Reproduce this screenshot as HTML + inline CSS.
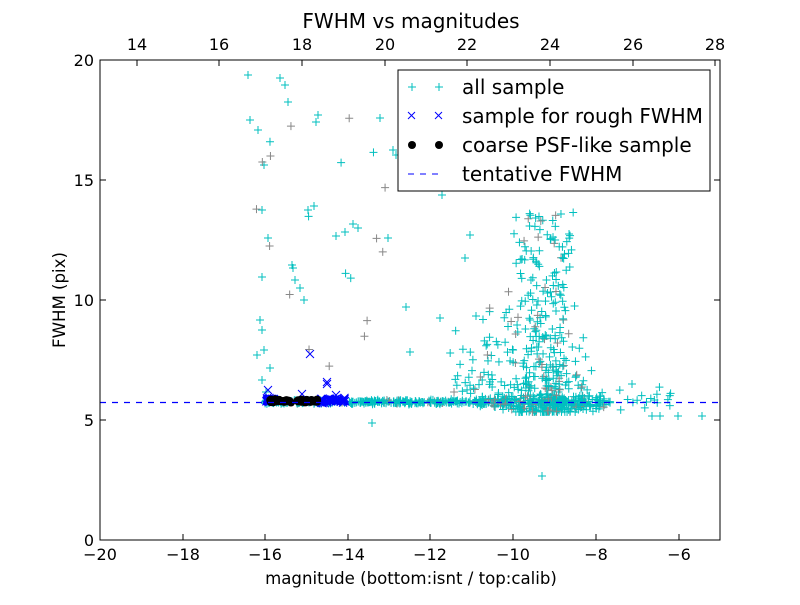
<!DOCTYPE html>
<html><head><meta charset="utf-8"><style>
body{margin:0;background:#fff}
svg{font-family:"DejaVu Sans","Liberation Sans",sans-serif}
</style></head><body>
<svg id="s" width="800" height="600" xmlns="http://www.w3.org/2000/svg">
<rect width="800" height="600" fill="#fff"/>
<g id="pts"></g>
<line x1="100" y1="402.5" x2="720" y2="402.5" stroke="#0000ff" stroke-width="1.2" stroke-dasharray="6,6"/>
<rect x="100" y="60" width="620" height="480" fill="none" stroke="#000" stroke-width="1"/>
<g id="ticks" stroke="#000"></g>
<g font-size="16" fill="#000" text-anchor="middle">
<text x="100" y="560">−20</text><text x="183" y="560">−18</text><text x="265" y="560">−16</text>
<text x="348" y="560">−14</text><text x="430" y="560">−12</text><text x="513" y="560">−10</text>
<text x="596" y="560">−8</text><text x="679" y="560">−6</text>
<text x="137" y="50">14</text><text x="219" y="50">16</text><text x="302" y="50">18</text>
<text x="385" y="50">20</text><text x="467" y="50">22</text><text x="550" y="50">24</text>
<text x="633" y="50">26</text><text x="715" y="50">28</text>
</g>
<g font-size="16" fill="#000" text-anchor="end">
<text x="94" y="546">0</text><text x="94" y="426">5</text><text x="94" y="306">10</text>
<text x="94" y="186">15</text><text x="94" y="66">20</text>
</g>
<text x="411" y="28" font-size="20" text-anchor="middle">FWHM vs magnitudes</text>
<text x="411" y="584" font-size="16.6" text-anchor="middle">magnitude (bottom:isnt / top:calib)</text>
<text x="65" y="300" font-size="16.6" text-anchor="middle" transform="rotate(-90 65 300)">FWHM (pix)</text>
<rect x="398" y="70" width="312" height="121" fill="#fff" stroke="#000"/>
<g font-size="20" fill="#000">
<text x="462" y="94">all sample</text>
<text x="462" y="123">sample for rough FWHM</text>
<text x="462" y="152">coarse PSF-like sample</text>
<text x="462" y="181">tentative FWHM</text>
</g>
<g stroke="#00bfbf"><path d="M408 87h8M412 83v8M435 87h8M439 83v8"/></g>
<g stroke="#0000ff"><path d="M408 112l7 7M415 112l-7 7M435 112l7 7M442 112l-7 7"/></g>
<circle cx="412" cy="145" r="4" fill="#000"/><circle cx="439" cy="145" r="4" fill="#000"/>
<line x1="408" y1="174" x2="443" y2="174" stroke="#0000ff" stroke-dasharray="6,6"/>
</svg>
<script>
var seed=7;function r(){seed=(seed*16807)%2147483647;return seed/2147483647;}
function g(){return (r()+r()+r()-1.5)/1.5;}
var out=[];
function plus(x,y,c){if(x<101||x>719||y<61||y>539)return;out.push('<path d="M'+(x-4)+' '+y+'h8M'+x+' '+(y-4)+'v8" stroke="'+c+'" fill="none"/>');}
var i,x,y;
for(i=0;i<550;i++){x=265+r()*345;y=402+g()*(x>480?9:3);plus(x,y,r()<0.08?'#888':'#00bfbf');}
for(i=0;i<380;i++){x=545+g()*55;var h=r();y=412-h*h*(x>505&&x<575?200:80);plus(x,y,r()<0.12?'#888':'#00bfbf');}
for(i=0;i<60;i++){x=450+r()*70;y=400-r()*r()*130;plus(x,y,r()<0.15?'#888':'#00bfbf');}
for(i=0;i<20;i++){x=600+r()*80;y=398+g()*20;plus(x,y,'#00bfbf');}
var L=[[248,75],[250,120],[258,130],[280,78],[285,85],[288,102],[262,210],[264,165],[262,277],[268,238],[292,265],[293,268],[295,280],[300,288],[304,300],[308,210],[314,206],[316,122],[318,115],[336,236],[345,232],[353,224],[358,228],[380,118],[388,238],[393,150],[396,155],[260,320],[262,330],[257,355],[264,350],[270,368],[262,380],[266,392],[406,307],[410,352],[372,423],[442,195],[440,318],[465,258],[470,235],[476,316],[487,60],[542,476],[405,130],[678,416],[652,416],[660,416],[702,416],[632,384]];
L.forEach(function(p){plus(p[0],p[1],'#00bfbf');});
for(i=0;i<20;i++){x=250+r()*150;y=100+r()*280;plus(x,y,r()<0.5?'#888':'#00bfbf');}
function cross(x,y){out.push('<path d="M'+(x-4)+' '+(y-4)+'l8 8M'+(x+4)+' '+(y-4)+'l-8 8" stroke="#0000ff"/>');}
for(i=0;i<40;i++){cross(266+r()*8,400+g()*4);}
for(i=0;i<60;i++){cross(318+r()*28,400+g()*4);}
[[310,354],[327,382],[327,384],[302,394],[336,395],[268,390]].forEach(function(p){cross(p[0],p[1]);});
for(i=0;i<70;i++){x=270+r()*50;if(x>292&&x<297)x+=6;y=401+g()*2;out.push('<circle cx="'+x+'" cy="'+y+'" r="4" fill="#000"/>');}
document.getElementById('pts').innerHTML=out.join('');
var t=[];
[100,183,265,348,430,513,596,679].forEach(function(x){t.push('<path d="M'+x+' 540v-6"/>');});
[137,219,302,385,467,550,633,715].forEach(function(x){t.push('<path d="M'+x+' 60v6"/>');});
[540,420,300,180,60].forEach(function(y){t.push('<path d="M100 '+y+'h6M720 '+y+'h-6"/>');});
document.getElementById('ticks').innerHTML=t.join('');
</script>
</body></html>
